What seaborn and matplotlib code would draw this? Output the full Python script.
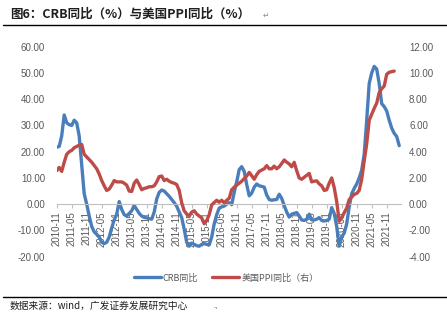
import numpy as np
import pandas as pd
import matplotlib
matplotlib.use("Agg")
import matplotlib.pyplot as plt
import seaborn as sns
from matplotlib.lines import Line2D

# ---------------- data ----------------
crb_yoy = [21.7, 22.0, 26.0, 34.0, 31.0, 30.3, 30.0, 32.0, 31.0, 26.0,
           15.0, 4.0, 0.0, -4.5, -8.5, -10.5, -11.5, -12.5, -14.5, -15.0,
           -14.5, -12.5, -9.0, -6.0, -3.8, 1.0, -2.0, -4.0, -4.5, -3.5,
           -2.5, -0.5, -2.0, -3.5, -4.5, -5.0, -5.2, -5.5, -5.7, -3.0,
           2.0, 4.5, 5.4, 5.0, 4.0, 3.0, 1.8, 0.6, -0.8, -3.0,
           -5.1, -9.5, -14.5, -16.0, -14.8, -15.3, -15.8, -16.0, -15.3, -15.0,
           -15.3, -15.5, -12.5, -7.5, -4.0, -1.5, -1.0, -0.7, 0.0, 0.6,
           -0.2, 4.5, 8.5, 13.2, 14.3, 12.5, 7.5, 3.2, 4.2, 6.5,
           7.7, 7.0, 6.8, 6.5, 3.5, 1.8, 1.5, 1.7, 1.8, 3.8,
           2.2, -0.5, -3.0, -4.9, -3.8, -3.5, -3.2, -4.5, -6.0, -6.2,
           -5.7, -3.8, -6.0, -6.0, -5.7, -5.1, -6.2, -6.4, -6.2, -5.7,
           -1.3, -3.5, -8.5, -16.0, -12.5, -11.0, -7.5, -1.0, 4.0, 6.0,
           7.7, 10.0, 13.0, 19.0, 32.0, 46.0, 50.0, 52.5, 51.5, 46.0,
           38.3, 37.2, 35.5, 32.0, 29.0, 27.0, 25.8, 22.3]

us_ppi_yoy = [2.55, 2.8, 2.5, 3.2, 3.8, 4.0, 4.1, 4.3, 4.4, 4.5,
              4.55, 3.8, 3.6, 3.4, 3.2, 2.95, 2.7, 2.3, 1.8, 1.4,
              1.05, 1.15, 1.45, 1.8, 1.7, 1.7, 1.7, 1.6, 1.45, 1.0,
              0.97, 1.6, 1.84, 1.5, 1.1, 1.2, 1.25, 1.33, 1.33, 1.4,
              1.7, 2.1, 2.15, 1.8, 1.9, 1.75, 1.66, 1.6, 1.5, 1.05,
              0.1, -0.5, -0.75, -0.9, -0.6, -0.5, -0.75, -0.9, -1.05, -1.49,
              -1.25, -0.8, -0.05, 0.13, 0.3, 0.15, 0.3, 0.1, 0.3, 0.45,
              1.1, 1.3, 1.45, 1.6, 1.75, 1.95, 2.15, 2.42, 2.17, 1.9,
              2.25, 2.5, 2.6, 2.7, 2.94, 2.7, 2.7, 2.9, 2.7, 2.85,
              3.1, 3.37, 3.2, 3.07, 2.85, 3.19, 2.55, 2.0, 1.9, 2.05,
              2.2, 2.35, 1.7, 1.75, 1.78, 1.55, 1.4, 1.05, 1.1, 1.6,
              2.0, 1.27, 0.2, -1.3, -1.05, -0.65, -0.3, 0.35, 0.55, 0.75,
              0.82, 1.05, 1.9, 3.3, 4.6, 6.4, 6.85, 7.3, 7.7, 8.5,
              8.8, 9.0, 9.9, 10.05, 10.1, 10.14]

months = pd.date_range("2010-11-01", periods=len(crb_yoy), freq="MS")
month_labels = [d.strftime("%Y-%m") for d in months]

left_ticks = [-20, -10, 0, 10, 20, 30, 40, 50, 60]
right_ticks = [-4, -2, 0, 2, 4, 6, 8, 10, 12]

title_text = "图6：CRB同比（%）与美国PPI同比（%）"
legend_labels = ["CRB同比", "美国PPI同比（右）"]
source_text = "数据来源：wind，广发证券发展研究中心"

# --------------- tables ---------------
df_crb = pd.DataFrame({"idx": np.arange(len(crb_yoy)), "value": crb_yoy})
df_ppi = pd.DataFrame({"idx": np.arange(len(us_ppi_yoy)), "value": us_ppi_yoy})

# --------------- style ----------------
sns.set_theme(style="white")
plt.rcParams["font.family"] = ["Liberation Sans", "Noto Sans CJK SC", "DejaVu Sans"]
CJK = ["Noto Sans CJK SC", "DejaVu Sans"]

BLUE = "#4A7EBB"
RED = "#BE4B48"
GREY_TXT = "#595959"
AX_GREY = "#BFBFBF"

W, H = 447, 321
fig = plt.figure(figsize=(W / 100, H / 100), dpi=100)
x0, x1 = 56.7, 400.7
y_top, y_bot = 46.7, 256.7
ax = fig.add_axes([x0 / W, 1 - y_bot / H, (x1 - x0) / W, (y_bot - y_top) / H])
ax2 = ax.twinx()

sns.lineplot(data=df_crb, x="idx", y="value", ax=ax, color=BLUE, linewidth=2.4,
             sort=False, legend=False)
sns.lineplot(data=df_ppi, x="idx", y="value", ax=ax2, color=RED, linewidth=2.4,
             sort=False, legend=False)

n_span = (x1 - x0) / 2.5
ax.set_xlim(0, n_span)
for a in (ax, ax2):
    a.set_xlabel("")
    a.set_ylabel("")
    for s in ("top", "left", "right"):
        a.spines[s].set_visible(False)
    a.patch.set_alpha(0)
    a.grid(False)

ax2.spines["bottom"].set_visible(False)
ax.set_ylim(-20, 60)
ax2.set_ylim(-4, 12)
ax.set_yticks(left_ticks)
ax.set_yticklabels([f"{v:.2f}" for v in left_ticks])
ax2.set_yticks(right_ticks)
ax2.set_yticklabels([f"{v:.2f}" for v in right_ticks])
ax.tick_params(axis="y", length=0, pad=8.4, labelsize=7, labelcolor=GREY_TXT)
ax2.tick_params(axis="y", length=0, pad=6, labelsize=7, labelcolor=GREY_TXT)

# category axis crossing at zero
ax.spines["bottom"].set_position(("data", 0))
ax.spines["bottom"].set_color(AX_GREY)
ax.spines["bottom"].set_linewidth(0.8)
tick_pos = list(range(0, len(month_labels), 6))
ax.set_xticks(tick_pos)
ax.set_xticklabels([month_labels[i] for i in tick_pos], rotation=90,
                   ha="center", va="top")
ax.tick_params(axis="x", bottom=True, direction="out", length=3, width=0.8,
               color=AX_GREY, pad=2, labelsize=7, labelcolor=GREY_TXT)

# legend
handles = [Line2D([0], [0], color=BLUE, linewidth=2.4),
           Line2D([0], [0], color=RED, linewidth=2.4)]
fig.legend(handles, legend_labels, loc="center", bbox_to_anchor=(226 / W, 1 - 278 / H),
           ncol=2, frameon=False, prop={"family": CJK, "size": 6.5},
           handlelength=3.0, handletextpad=0.2, columnspacing=1.6,
           labelcolor=GREY_TXT)

# title and decorations
fig.text(10 / W, 1 - 14 / H, title_text, family=CJK, fontsize=9, fontweight="bold",
         color="#1F1F1F", ha="left", va="center")
fig.text(263 / W, 1 - 15 / H, "↵", family=["DejaVu Sans"], fontsize=5.5,
         color="#8C8C8C", ha="left", va="center")
fig.add_artist(Line2D([3 / W, 1], [1 - 24.5 / H] * 2, color="black", linewidth=1.0,
                      transform=fig.transFigure))
fig.add_artist(Line2D([3 / W, 1], [1 - 296.7 / H] * 2, color="black", linewidth=1.0,
                      transform=fig.transFigure))
fig.text(10 / W, 1 - 306 / H, source_text, family=CJK, fontsize=7,
         color="#1F1F1F", ha="left", va="center")
fig.text(213 / W, 1 - 306 / H, ".,", family=["DejaVu Sans"], fontsize=5,
         color="#555555", ha="left", va="center")

fig.savefig("out.png", dpi=100)
